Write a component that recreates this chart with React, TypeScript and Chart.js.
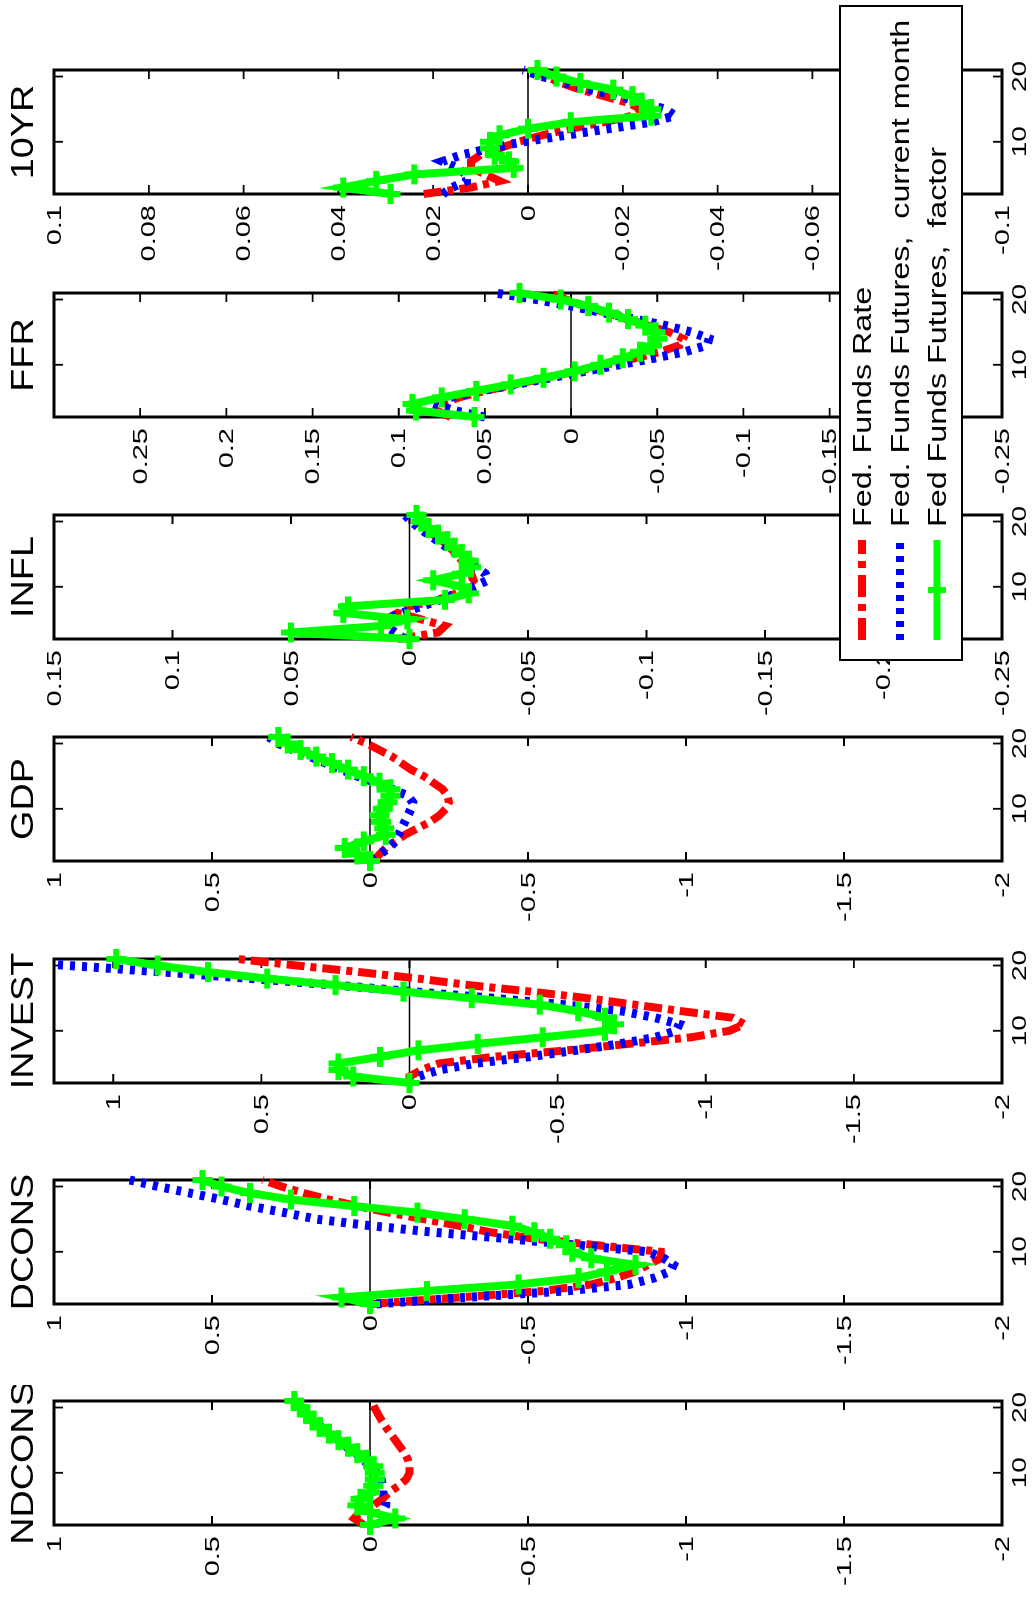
import React, { useEffect, useRef } from "react";
import { Chart, registerables } from "chart.js";

Chart.register(...registerables);

// ---------------- DATA ----------------
const horizons = [2, 3, 4, 5, 6, 7, 8, 9, 10, 11, 12, 13, 14, 15, 16, 17, 18, 19, 20, 21];
const horizonTicks = [10, 20];

const seriesLabels = ["Fed. Funds Rate", "Fed. Funds Futures,  current month", "Fed Funds Futures,  factor"];

// NDCONS
const ndconsRate = [0.02, 0.05, 0.03, -0.01, -0.04, -0.06, -0.09, -0.115, -0.125, -0.125, -0.12, -0.11, -0.095, -0.08, -0.065, -0.05, -0.037, -0.025, -0.014, -0.006];
const ndconsCurrent = [0.0, -0.02, -0.04, -0.05, -0.05, -0.04, -0.04, -0.035, -0.02, 0.0, 0.02, 0.045, 0.075, 0.1, 0.13, 0.155, 0.18, 0.2, 0.215, 0.23];
const ndconsFactor = [0.0, -0.08, 0.0, 0.04, 0.03, 0.0, -0.01, -0.015, -0.015, -0.01, 0.01, 0.04, 0.07, 0.1, 0.13, 0.16, 0.18, 0.2, 0.22, 0.24];

// DCONS
const dconsRate = [0.0, -0.28, -0.55, -0.7, -0.78, -0.84, -0.88, -0.92, -0.92, -0.72, -0.52, -0.38, -0.28, -0.17, -0.06, 0.04, 0.13, 0.21, 0.28, 0.34];
const dconsCurrent = [-0.02, -0.3, -0.62, -0.82, -0.9, -0.95, -0.96, -0.93, -0.88, -0.66, -0.44, -0.2, 0.0, 0.17, 0.27, 0.38, 0.47, 0.57, 0.67, 0.76];
const dconsFactor = [0.0, 0.09, -0.18, -0.47, -0.66, -0.75, -0.84, -0.7, -0.64, -0.62, -0.57, -0.52, -0.45, -0.3, -0.15, 0.05, 0.25, 0.38, 0.47, 0.53];

// INVEST
const investRate = [0.0, 0.0, -0.04, -0.1, -0.28, -0.53, -0.74, -0.95, -1.08, -1.13, -1.09, -0.92, -0.76, -0.6, -0.41, -0.2, -0.03, 0.17, 0.38, 0.58];
const investCurrent = [0.0, -0.03, -0.1, -0.22, -0.4, -0.56, -0.71, -0.83, -0.9, -0.91, -0.83, -0.72, -0.52, -0.28, -0.01, 0.25, 0.53, 0.83, 1.15, 1.45];
const investFactor = [0.0, 0.19, 0.24, 0.24, 0.1, -0.03, -0.23, -0.45, -0.66, -0.69, -0.66, -0.57, -0.44, -0.21, 0.02, 0.25, 0.48, 0.68, 0.85, 0.99];

// GDP
const gdpRate = [-0.01, -0.03, -0.05, -0.08, -0.11, -0.15, -0.19, -0.22, -0.24, -0.25, -0.245, -0.23, -0.2, -0.17, -0.13, -0.1, -0.07, -0.03, 0.01, 0.06];
const gdpCurrent = [-0.01, -0.03, -0.06, -0.08, -0.09, -0.1, -0.11, -0.12, -0.13, -0.135, -0.12, -0.07, -0.02, 0.04, 0.09, 0.14, 0.19, 0.24, 0.29, 0.32];
const gdpFactor = [0.0, 0.04, 0.08, 0.02, -0.05, -0.045, -0.035, -0.03, -0.04, -0.055, -0.065, -0.065, -0.03, 0.02, 0.07, 0.12, 0.17, 0.22, 0.26, 0.29];

// INFL
const inflRate = [0.005, -0.012, -0.015, -0.005, 0.005, 0.0, -0.012, -0.02, -0.024, -0.027, -0.026, -0.024, -0.022, -0.02, -0.017, -0.014, -0.01, -0.007, -0.004, -0.002];
const inflCurrent = [0.002, 0.006, 0.01, 0.01, 0.003, -0.005, -0.013, -0.02, -0.027, -0.033, -0.032, -0.028, -0.024, -0.02, -0.016, -0.012, -0.008, -0.004, -0.001, 0.002];
const inflFactor = [0.0, 0.05, 0.012, 0.001, 0.028, 0.026, -0.015, -0.025, -0.022, -0.01, -0.022, -0.026, -0.025, -0.022, -0.019, -0.016, -0.012, -0.008, -0.005, -0.003];

// FFR
const ffrRate = [0.07, 0.078, 0.075, 0.065, 0.05, 0.032, 0.015, -0.003, -0.02, -0.037, -0.052, -0.063, -0.065, -0.057, -0.045, -0.032, -0.02, -0.008, 0.003, 0.012];
const ffrCurrent = [0.05, 0.068, 0.08, 0.07, 0.052, 0.032, 0.012, -0.008, -0.028, -0.048, -0.066, -0.079, -0.08, -0.07, -0.055, -0.037, -0.018, 0.0, 0.02, 0.044];
const ffrFactor = [0.056, 0.09, 0.092, 0.075, 0.055, 0.035, 0.016, -0.002, -0.017, -0.03, -0.04, -0.047, -0.05, -0.049, -0.043, -0.033, -0.022, -0.01, 0.006, 0.03];

// 10YR
const tenyrRate = [0.022, 0.012, 0.006, 0.009, 0.012, 0.012, 0.01, 0.006, 0.002, -0.003, -0.009, -0.016, -0.022, -0.024, -0.021, -0.016, -0.011, -0.007, -0.004, -0.001];
const tenyrCurrent = [0.018, 0.016, 0.013, 0.013, 0.015, 0.018, 0.014, 0.008, 0.001, -0.008, -0.017, -0.026, -0.031, -0.029, -0.024, -0.019, -0.013, -0.008, -0.003, 0.001];
const tenyrFactor = [0.029, 0.039, 0.032, 0.024, 0.003, 0.004, 0.007, 0.008, 0.008, 0.006, 0.0, -0.009, -0.026, -0.026, -0.024, -0.022, -0.018, -0.011, -0.006, -0.002];

// value-axis tick labels
const ticksUnit = [1, 0.5, 0, -0.5, -1, -1.5, -2];
const ticksInfl = [0.15, 0.1, 0.05, 0, -0.05, -0.1, -0.15, -0.2, -0.25];
const ticksFfr = [0.25, 0.2, 0.15, 0.1, 0.05, 0, -0.05, -0.1, -0.15, -0.2, -0.25];
const ticksTenyr = [0.1, 0.08, 0.06, 0.04, 0.02, 0, -0.02, -0.04, -0.06, -0.08, -0.1];

const panelTitles = ["NDCONS", "DCONS", "INVEST", "GDP", "INFL", "FFR", "10YR"];
const panelMax = [1, 1, 1.2, 1, 0.15, 0.3, 0.1];
const panelMin = [-2, -2, -2, -2, -0.25, -0.25, -0.1];
const panelTicks = [ticksUnit, ticksUnit, ticksUnit, ticksUnit, ticksInfl, ticksFfr, ticksTenyr];
const panelRate = [ndconsRate, dconsRate, investRate, gdpRate, inflRate, ffrRate, tenyrRate];
const panelCurrent = [ndconsCurrent, dconsCurrent, investCurrent, gdpCurrent, inflCurrent, ffrCurrent, tenyrCurrent];
const panelFactor = [ndconsFactor, dconsFactor, investFactor, gdpFactor, inflFactor, ffrFactor, tenyrFactor];

// ---------------- LAYOUT (unrotated figure coordinates) ----------------
const FIG_W = 1600;
const FIG_H = 1035;
const boxLefts = [75, 296, 517, 739, 961, 1183, 1406];
const BOX_W = 128;
const AXIS_W = 90;
const PAD_R = 12;
const CANVAS_W = AXIS_W + BOX_W + PAD_R;
const BOX_BOTTOM = 1002;
const FONT = '"Liberation Sans", Arial, Helvetica, sans-serif';

const RED = "#ff0000";
const BLUE = "#0000ff";
const GREEN = "#00ff00";

const fmt = (v: number) => String(+Number(v).toFixed(4));

function stretchedText(ctx: any, text: string, x: number, y: number, sx: number) {
  ctx.save();
  ctx.translate(x, y);
  ctx.scale(sx, 1);
  ctx.fillText(text, 0, 0);
  ctx.restore();
}

function makeFramePlugin(title: string) {
  return {
    id: "matlabFrame",
    beforeDatasetsDraw(chart: any) {
      const { ctx, chartArea: a, scales } = chart;
      const xs = scales.x;
      const ys = scales.y;
      ctx.save();
      ctx.strokeStyle = "#000";
      // zero line
      const y0 = ys.getPixelForValue(0);
      ctx.lineWidth = 1.5;
      ctx.beginPath();
      ctx.moveTo(a.left, y0);
      ctx.lineTo(a.right, y0);
      ctx.stroke();
      // inward ticks
      ctx.lineWidth = 1.8;
      const TL = 9;
      ctx.beginPath();
      for (const t of ys.ticks) {
        const py = ys.getPixelForValue(t.value);
        ctx.moveTo(a.left, py);
        ctx.lineTo(a.left + TL, py);
        ctx.moveTo(a.right, py);
        ctx.lineTo(a.right - TL, py);
      }
      for (const t of xs.ticks) {
        const px = xs.getPixelForValue(t.value);
        ctx.moveTo(px, a.bottom);
        ctx.lineTo(px, a.bottom - TL);
        ctx.moveTo(px, a.top);
        ctx.lineTo(px, a.top + TL);
      }
      ctx.stroke();
      // box
      ctx.lineWidth = 3;
      ctx.strokeRect(a.left, a.top, a.right - a.left, a.bottom - a.top);
      ctx.restore();
    },
    afterDraw(chart: any) {
      const { ctx, chartArea: a, scales } = chart;
      const xs = scales.x;
      const ys = scales.y;
      ctx.save();
      ctx.fillStyle = "#000";
      // value tick labels
      ctx.font = `20px ${FONT}`;
      ctx.textAlign = "right";
      ctx.textBaseline = "middle";
      for (const t of ys.ticks) {
        stretchedText(ctx, fmt(t.value), a.left - 11, ys.getPixelForValue(t.value) + 1, 1.45);
      }
      // horizon tick labels
      ctx.textAlign = "center";
      ctx.textBaseline = "top";
      for (const t of xs.ticks) {
        stretchedText(ctx, fmt(t.value), xs.getPixelForValue(t.value), a.bottom + 8, 1.4);
      }
      // title
      ctx.font = `32px ${FONT}`;
      ctx.textAlign = "center";
      ctx.textBaseline = "alphabetic";
      stretchedText(ctx, title, (a.left + a.right) / 2, 33, 1.18);
      ctx.restore();
    },
  };
}

function Panel({ idx }: { idx: number }) {
  const ref = useRef<HTMLCanvasElement>(null);
  useEffect(() => {
    const canvas = ref.current!;
    const toPts = (vals: number[]) => horizons.map((h, i) => ({ x: h, y: vals[i] }));
    const clip = { left: 14, right: 14, top: 0, bottom: 0 };
    const yTicks = panelTicks[idx];
    const chart = new Chart(canvas, {
      type: "line",
      data: {
        datasets: [
          {
            label: seriesLabels[2],
            data: toPts(panelFactor[idx]),
            borderColor: GREEN,
            backgroundColor: GREEN,
            borderWidth: 8,
            pointStyle: "cross",
            pointRadius: 10,
            pointHoverRadius: 10,
            pointBorderWidth: 6,
            pointBorderColor: GREEN,
            pointBackgroundColor: GREEN,
            tension: 0,
            clip,
            order: 0,
          } as any,
          {
            label: seriesLabels[1],
            data: toPts(panelCurrent[idx]),
            borderColor: BLUE,
            backgroundColor: BLUE,
            borderWidth: 9,
            borderDash: [5, 7],
            borderCapStyle: "butt",
            pointRadius: 0,
            tension: 0,
            clip,
            order: 1,
          } as any,
          {
            label: seriesLabels[0],
            data: toPts(panelRate[idx]),
            borderColor: RED,
            backgroundColor: RED,
            borderWidth: 8,
            borderDash: [18, 6, 6, 6],
            borderCapStyle: "butt",
            pointRadius: 0,
            tension: 0,
            clip,
            order: 2,
          } as any,
        ],
      },
      options: {
        responsive: false,
        maintainAspectRatio: false,
        animation: false,
        devicePixelRatio: 1,
        events: [],
        layout: { padding: { top: 54, right: PAD_R, left: 0, bottom: 0 } },
        plugins: {
          legend: { display: false },
          tooltip: { enabled: false },
          title: { display: false },
        },
        scales: {
          x: {
            type: "linear",
            min: horizons[0],
            max: horizons[horizons.length - 1],
            grid: { display: false, drawTicks: false },
            border: { display: false },
            afterBuildTicks: (s: any) => {
              s.ticks = horizonTicks.map((v) => ({ value: v }));
            },
            afterFit: (s: any) => {
              s.height = FIG_H - BOX_BOTTOM;
            },
            ticks: { display: false, autoSkip: false, maxRotation: 0 },
          },
          y: {
            type: "linear",
            min: panelMin[idx],
            max: panelMax[idx],
            grid: { display: false, drawTicks: false },
            border: { display: false },
            afterBuildTicks: (s: any) => {
              s.ticks = yTicks.map((v) => ({ value: v }));
            },
            afterFit: (s: any) => {
              s.width = AXIS_W;
            },
            ticks: { display: false, autoSkip: false },
          },
        },
      } as any,
      plugins: [makeFramePlugin(panelTitles[idx]) as any],
    });
    return () => chart.destroy();
  }, [idx]);
  return (
    <canvas
      ref={ref}
      width={CANVAS_W}
      height={FIG_H}
      style={{ position: "absolute", left: boxLefts[idx] - AXIS_W, top: 0, width: CANVAS_W, height: FIG_H }}
    />
  );
}

function LegendSample({ kind }: { kind: number }) {
  const w = 104;
  const h = 38;
  const cy = h / 2;
  const pos = { position: "absolute" as const, left: 17, top: 0 };
  if (kind === 0)
    return (
      <svg width={w} height={h} style={pos}>
        <line x1={2} y1={cy} x2={w - 2} y2={cy} stroke={RED} strokeWidth={8} strokeDasharray="22 7 7 7" />
      </svg>
    );
  if (kind === 1)
    return (
      <svg width={w} height={h} style={pos}>
        <line x1={2} y1={cy} x2={w - 2} y2={cy} stroke={BLUE} strokeWidth={8} strokeDasharray="6 7" />
      </svg>
    );
  return (
    <svg width={w} height={h} style={pos}>
      <line x1={2} y1={cy} x2={w - 2} y2={cy} stroke={GREEN} strokeWidth={7} />
      <line x1={w / 2 - 9} y1={cy} x2={w / 2 + 9} y2={cy} stroke={GREEN} strokeWidth={6} />
      <line x1={w / 2} y1={cy - 9} x2={w / 2} y2={cy + 9} stroke={GREEN} strokeWidth={6} />
    </svg>
  );
}

function Legend() {
  const rowTops = [2, 40, 77];
  return (
    <div
      style={{
        position: "absolute",
        left: 939,
        top: 839,
        width: 656,
        height: 124,
        boxSizing: "border-box",
        border: "2.5px solid #000",
        background: "#fff",
        zIndex: 5,
        fontFamily: FONT,
        fontSize: 25,
        color: "#000",
      }}
    >
      {seriesLabels.map((lab, i) => (
        <div key={i} style={{ position: "absolute", left: 0, top: rowTops[i], width: "100%", height: 38 }}>
          <LegendSample kind={i} />
          <span
            style={{
              position: "absolute",
              left: 132,
              top: 0,
              lineHeight: "38px",
              whiteSpace: "pre",
              transformOrigin: "0 50%",
              transform: "scaleX(1.29)",
            }}
          >
            {lab}
          </span>
        </div>
      ))}
    </div>
  );
}

export default function App() {
  return (
    <div
      style={{
        position: "absolute",
        left: 0,
        top: 0,
        width: FIG_W,
        height: FIG_H,
        overflow: "hidden",
        background: "#fff",
        transformOrigin: "0 0",
        transform: `translateY(${FIG_W}px) rotate(-90deg)`,
      }}
    >
      {panelTitles.map((_, i) => (
        <Panel key={i} idx={i} />
      ))}
      <Legend />
    </div>
  );
}
